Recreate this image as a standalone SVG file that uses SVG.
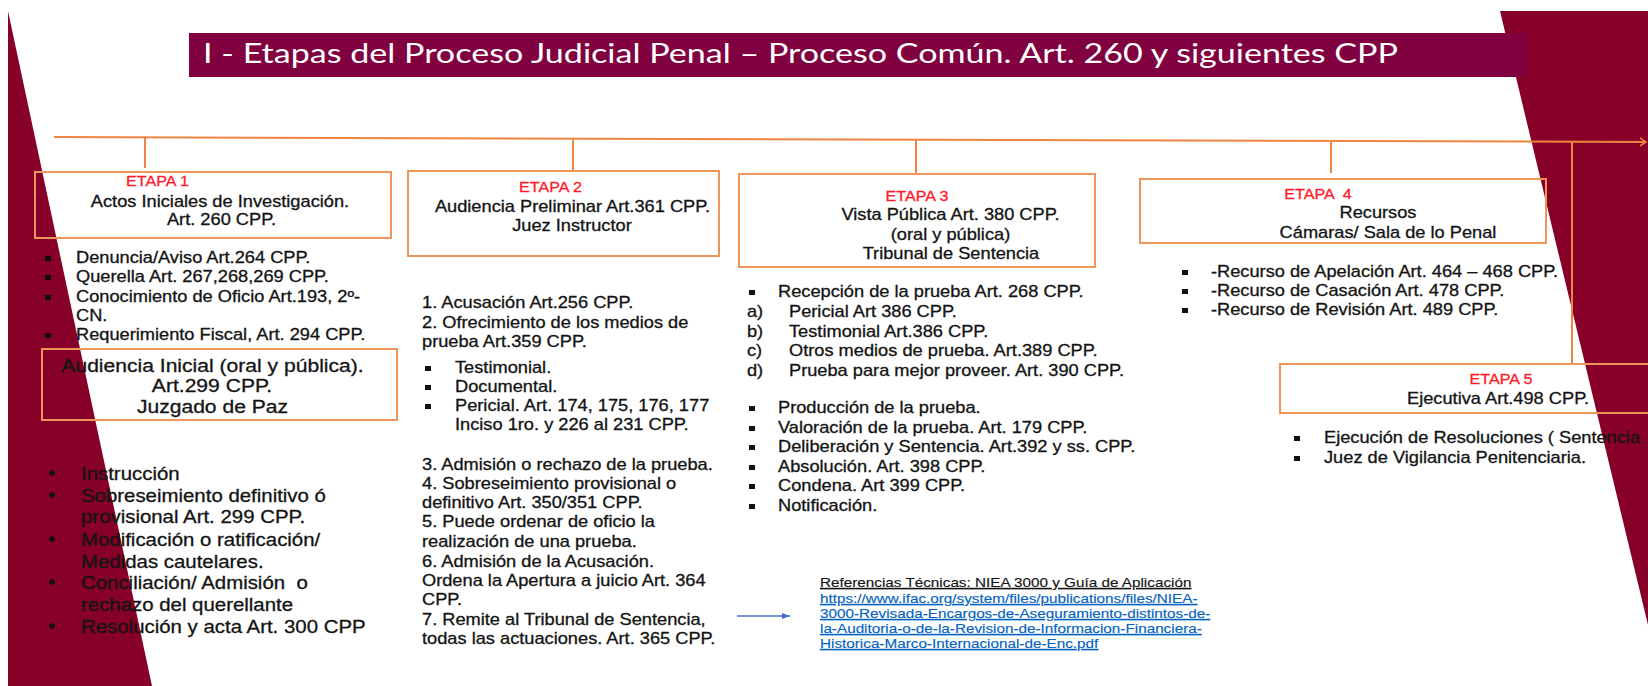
<svg xmlns="http://www.w3.org/2000/svg" width="1648" height="686" viewBox="0 0 1648 686">
<defs>
<style>
text{font-family:"Liberation Sans",Arial,sans-serif;fill:#141414;stroke:#141414;stroke-width:0.3px;font-size:16px;transform-box:fill-box;transform-origin:0 0;transform:scaleX(1.14)}
.m{text-anchor:middle;transform-origin:50% 0}
.r{fill:#ff1a2a;stroke:#ff1a2a;font-size:14.1px}
.box{fill:none;stroke:#f0955a;stroke-width:2}
.ln{stroke:#ee8540;stroke-width:2;fill:none}
.sq{fill:#111}
.au{font-size:18.5px}
.bl{font-size:17.9px}
.ref{font-size:13.4px;text-decoration:underline;stroke-width:0.15px}
.lk{fill:#0563c1;stroke:#0563c1}
.ttl{fill:#fff;stroke:none;font-family:Lato,"Liberation Sans",sans-serif;font-size:27px;transform:none}
</style>
<marker id="chev" markerWidth="12" markerHeight="12" refX="9" refY="6" orient="auto" markerUnits="userSpaceOnUse">
<path d="M3,2 L9,6 L3,10" fill="none" stroke="#ee8540" stroke-width="1.5"/>
</marker>
<marker id="barrow" markerWidth="10" markerHeight="10" refX="8" refY="5" orient="auto" markerUnits="userSpaceOnUse">
<path d="M0,2 L8,5 L0,8 Z" fill="#4472c4"/>
</marker>
</defs>
<rect width="1648" height="686" fill="#fff"/>
<g id="background">
<polygon points="8,11 8,686 152,686" fill="#860028"/>
<polygon points="1500,11 1648,11 1648,625" fill="#860028"/>
</g>
<g id="title">
<rect x="189" y="33" width="1338" height="44" fill="#800040"/>
<text class="ttl" x="203" y="63" textLength="1195" lengthAdjust="spacingAndGlyphs">I - Etapas del Proceso Judicial Penal – Proceso Común. Art. 260 y siguientes CPP</text>
</g>
<g id="connectors">
<line class="ln" x1="54" y1="137" x2="1646" y2="142" marker-end="url(#chev)"/>
<line class="ln" x1="145" y1="137" x2="145" y2="168"/>
<line class="ln" x1="573" y1="138.5" x2="573" y2="171"/>
<line class="ln" x1="916" y1="139.7" x2="916" y2="174"/>
<line class="ln" x1="1331" y1="141" x2="1331" y2="173"/>
<line class="ln" x1="1572" y1="141.8" x2="1572" y2="364"/>
<line x1="737" y1="616" x2="790" y2="616" stroke="#4472c4" stroke-width="1.5" marker-end="url(#barrow)"/>
</g>
<g id="etapa1">
<rect class="box" x="35" y="172" width="356" height="66"/>
<text class="r m" x="157.5" y="186">ETAPA 1</text>
<text class="m" x="220" y="207">Actos Iniciales de Investigación.</text>
<text class="m" x="221.5" y="225">Art. 260 CPP.</text>
</g>
<g id="etapa1-list">
<rect class="sq" x="45" y="256" width="6" height="5"/>
<rect class="sq" x="45" y="275" width="6" height="5"/>
<rect class="sq" x="45" y="295" width="6" height="5"/>
<rect class="sq" x="45" y="333" width="6" height="5"/>
<text x="76" y="263">Denuncia/Aviso Art.264 CPP.</text>
<text x="76" y="282">Querella Art. 267,268,269 CPP.</text>
<text x="76" y="302">Conocimiento de Oficio Art.193, 2º-</text>
<text x="76" y="321">CN.</text>
<text x="76" y="340">Requerimiento Fiscal, Art. 294 CPP.</text>
</g>
<g id="audiencia-inicial">
<rect class="box" x="42" y="349" width="355" height="71"/>
<text class="au m" x="212.5" y="372">Audiencia Inicial (oral y pública).</text>
<text class="au m" x="212" y="392">Art.299 CPP.</text>
<text class="au m" x="212.5" y="413">Juzgado de Paz</text>
</g>
<g id="audiencia-list">
<circle cx="52" cy="473" r="2.8" fill="#111"/>
<circle cx="52" cy="495" r="2.8" fill="#111"/>
<circle cx="52" cy="539" r="2.8" fill="#111"/>
<circle cx="52" cy="582" r="2.8" fill="#111"/>
<circle cx="52" cy="626" r="2.8" fill="#111"/>
<text class="bl" x="81" y="480">Instrucción</text>
<text class="bl" x="81" y="502">Sobreseimiento definitivo ó</text>
<text class="bl" x="81" y="523">provisional Art. 299 CPP.</text>
<text class="bl" x="81" y="546">Modificación o ratificación/</text>
<text class="bl" x="81" y="568">Medidas cautelares.</text>
<text class="bl" x="81" y="589" xml:space="preserve">Conciliación/ Admisión  o</text>
<text class="bl" x="81" y="611">rechazo del querellante</text>
<text class="bl" x="81" y="633">Resolución y acta Art. 300 CPP</text>
</g>
<g id="etapa2">
<rect class="box" x="408" y="171" width="311" height="85"/>
<text class="r m" x="550.5" y="192">ETAPA 2</text>
<text class="m" x="572.5" y="212">Audiencia Preliminar Art.361 CPP.</text>
<text class="m" x="572" y="231">Juez Instructor</text>
</g>
<g id="etapa2-list">
<text x="422" y="308">1. Acusación Art.256 CPP.</text>
<text x="422" y="328">2. Ofrecimiento de los medios de</text>
<text x="422" y="347">prueba Art.359 CPP.</text>
<rect class="sq" x="425" y="366" width="6" height="5"/>
<rect class="sq" x="425" y="385" width="6" height="5"/>
<rect class="sq" x="425" y="404" width="6" height="5"/>
<text x="455" y="373">Testimonial.</text>
<text x="455" y="392">Documental.</text>
<text x="455" y="411">Pericial. Art. 174, 175, 176, 177</text>
<text x="455" y="430">Inciso 1ro. y 226 al 231 CPP.</text>
<text x="422" y="470">3. Admisión o rechazo de la prueba.</text>
<text x="422" y="489">4. Sobreseimiento provisional o</text>
<text x="422" y="508">definitivo Art. 350/351 CPP.</text>
<text x="422" y="527">5. Puede ordenar de oficio la</text>
<text x="422" y="547">realización de una prueba.</text>
<text x="422" y="567">6. Admisión de la Acusación.</text>
<text x="422" y="586">Ordena la Apertura a juicio Art. 364</text>
<text x="422" y="605">CPP.</text>
<text x="422" y="625">7. Remite al Tribunal de Sentencia,</text>
<text x="422" y="644">todas las actuaciones. Art. 365 CPP.</text>
</g>
<g id="etapa3">
<rect class="box" x="739" y="174" width="356" height="93"/>
<text class="r m" x="917" y="201">ETAPA 3</text>
<text class="m" x="950.5" y="220">Vista Pública Art. 380 CPP.</text>
<text class="m" x="950.5" y="240">(oral y pública)</text>
<text class="m" x="951" y="259">Tribunal de Sentencia</text>
</g>
<g id="etapa3-list">
<rect class="sq" x="749" y="290" width="6" height="5"/>
<text x="778" y="297">Recepción de la prueba Art. 268 CPP.</text>
<text x="747" y="317">a)</text><text x="789" y="317">Pericial Art 386 CPP.</text>
<text x="747" y="337">b)</text><text x="789" y="337">Testimonial Art.386 CPP.</text>
<text x="747" y="356">c)</text><text x="789" y="356">Otros medios de prueba. Art.389 CPP.</text>
<text x="747" y="376">d)</text><text x="789" y="376">Prueba para mejor proveer. Art. 390 CPP.</text>
<rect class="sq" x="749" y="406" width="6" height="5"/>
<rect class="sq" x="749" y="426" width="6" height="5"/>
<rect class="sq" x="749" y="445" width="6" height="5"/>
<rect class="sq" x="749" y="465" width="6" height="5"/>
<rect class="sq" x="749" y="484" width="6" height="5"/>
<rect class="sq" x="749" y="504" width="6" height="5"/>
<text x="778" y="413">Producción de la prueba.</text>
<text x="778" y="433">Valoración de la prueba. Art. 179 CPP.</text>
<text x="778" y="452">Deliberación y Sentencia. Art.392 y ss. CPP.</text>
<text x="778" y="472">Absolución. Art. 398 CPP.</text>
<text x="778" y="491">Condena. Art 399 CPP.</text>
<text x="778" y="511">Notificación.</text>
</g>
<g id="referencias">
<text class="ref" x="820" y="587">Referencias Técnicas: NIEA 3000 y Guía de Aplicación</text>
<text class="ref lk" x="820" y="603">https://www.ifac.org/system/files/publications/files/NIEA-</text>
<text class="ref lk" x="820" y="618">3000-Revisada-Encargos-de-Aseguramiento-distintos-de-</text>
<text class="ref lk" x="820" y="633">la-Auditoria-o-de-la-Revision-de-Informacion-Financiera-</text>
<text class="ref lk" x="820" y="648">Historica-Marco-Internacional-de-Enc.pdf</text>
</g>
<g id="etapa4">
<rect class="box" x="1140" y="179" width="406" height="64"/>
<text class="r m" x="1318" y="199" xml:space="preserve">ETAPA  4</text>
<text class="m" x="1378" y="218">Recursos</text>
<text class="m" x="1388" y="238">Cámaras/ Sala de lo Penal</text>
</g>
<g id="etapa4-list">
<rect class="sq" x="1182" y="270" width="6" height="5"/>
<rect class="sq" x="1182" y="289" width="6" height="5"/>
<rect class="sq" x="1182" y="308" width="6" height="5"/>
<text x="1211" y="277">-Recurso de Apelación Art. 464 – 468 CPP.</text>
<text x="1211" y="296">-Recurso de Casación Art. 478 CPP.</text>
<text x="1211" y="315">-Recurso de Revisión Art. 489 CPP.</text>
</g>
<g id="etapa5">
<rect class="box" x="1280" y="364" width="380" height="49"/>
<text class="r m" x="1501" y="384">ETAPA 5</text>
<text class="m" x="1498" y="404">Ejecutiva Art.498 CPP.</text>
</g>
<g id="etapa5-list">
<rect class="sq" x="1294" y="436" width="6" height="5"/>
<rect class="sq" x="1294" y="456" width="6" height="5"/>
<text x="1324" y="443">Ejecución de Resoluciones ( Sentencia</text>
<text x="1324" y="463">Juez de Vigilancia Penitenciaria.</text>
</g>
</svg>
